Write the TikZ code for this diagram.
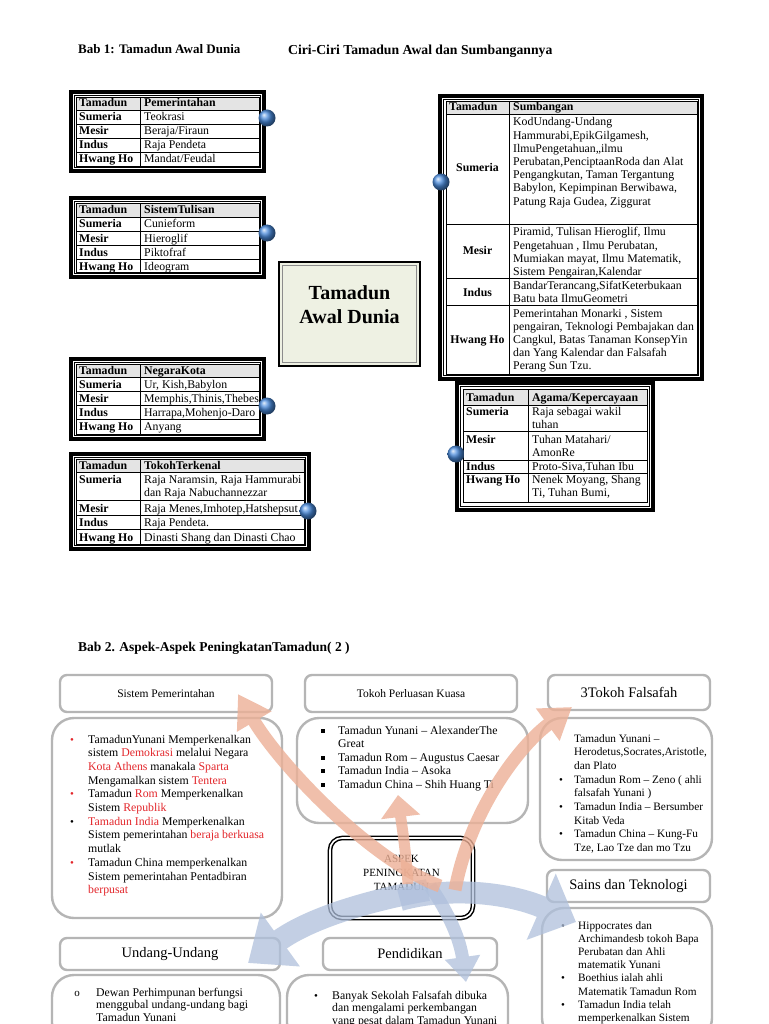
\documentclass[tikz,border=0pt]{standalone}
\usepackage{fontspec}
\setmainfont{Liberation Serif}
\usetikzlibrary{arrows.meta}
\pgfdeclarelayer{bg}
\pgfsetlayers{bg,main}
\definecolor{hdrgray}{HTML}{E4E4E4}
\definecolor{boxfill}{HTML}{EEF1E3}
\definecolor{redtxt}{HTML}{E3262B}
\definecolor{peach}{HTML}{EDB096}
\definecolor{bluearr}{HTML}{AFC0DC}
\definecolor{ballblue}{HTML}{4A8BDC}
\definecolor{gframe}{HTML}{B5B5B5}
\newcommand{\rd}[1]{\textcolor{redtxt}{#1}}
\newcommand{\mlines}[6]{\foreach \myline [count=\i from 0] in {#6} {\node[#1] (#2-\i) at (#3,{#4+\i*#5}) {\myline};}}
\newcommand{\trow}[4]{\node[tb] (#1a) at (79,#2) {#3}; \node[tx] (#1b) at (144,#2) {#4};}
\newcommand{\hrow}[3]{\node[tb] (#1a) at (79,#2) {Tamadun}; \node[tb] (#1b) at (144,#2) {#3};}
\begin{document}
\begin{tikzpicture}[x=1pt,y=-1pt,
  tx/.style={anchor=base west, inner sep=0pt, font=\fontsize{11.8}{13}\selectfont},
  tb/.style={anchor=base west, inner sep=0pt, font=\bfseries\fontsize{11.8}{13}\selectfont},
  tbc/.style={anchor=base, inner sep=0pt, font=\bfseries\fontsize{11.8}{13}\selectfont},
  frameo/.style={line width=3.5pt},
  framei/.style={line width=1pt},
  gridl/.style={line width=0.8pt},
  ball/.style={circle, inner sep=0pt, minimum size=17pt, ball color=ballblue},
  gbox/.style={draw=gframe, line width=2.4pt, fill=white, rounded corners=7pt, inner sep=0pt},
  cbox/.style={draw=gframe, line width=2.4pt, fill=white, rounded corners=22pt, inner sep=0pt},
  hfs/.style={font=\fontsize{11.5}{13}\selectfont},
  hfl/.style={font=\fontsize{14.5}{16}\selectfont},
  cx/.style={anchor=base west, inner sep=0pt, font=\fontsize{11.8}{13}\selectfont},
  cxs/.style={anchor=base west, inner sep=0pt, font=\fontsize{11.3}{13}\selectfont},
  bul/.style={anchor=base, inner sep=0pt, font=\fontsize{11}{13}\selectfont},
  sq/.style={fill=black, inner sep=0pt, minimum size=4pt},
  ttl/.style={anchor=base west, inner sep=0pt}
]
\useasboundingbox (0,0) rectangle (768,1024);
\fill[white] (0,0) rectangle (768,1024);

% ---------- titles
\node[ttl, font=\bfseries\fontsize{13}{15}\selectfont] (title1) at (78,54) {Bab 1: Tamadun Awal Dunia};
\node[ttl, font=\bfseries\fontsize{13.7}{15}\selectfont] (title2) at (288,55) {Ciri-Ciri Tamadun Awal dan Sumbangannya};
\node[ttl, font=\bfseries\fontsize{13.5}{15}\selectfont] (title3) at (78,651) {Bab 2. Aspek-Aspek PeningkatanTamadun( 2 )};

% ---------- table 1 Pemerintahan
\draw[frameo] (71,92) rectangle (264,171);
\draw[framei] (74.5,95.5) rectangle (260.5,167.5);
\fill[hdrgray] (76,97) rectangle (259,110);
\draw[gridl] (76,97) rectangle (259,166) (140,97) -- (140,166);
\foreach \yy in {110,124,138,152} \draw[gridl] (76,\yy) -- (259,\yy);
\hrow{pa}{107}{Pemerintahan}
\trow{pb}{121}{Sumeria}{Teokrasi}
\trow{pc}{135}{Mesir}{Beraja/Firaun}
\trow{pd}{149}{Indus}{Raja Pendeta}
\trow{pe}{163}{Hwang Ho}{Mandat/Feudal}

% ---------- table 2 Sistem Tulisan
\draw[frameo] (71,198) rectangle (264,277);
\draw[framei] (74.5,201.5) rectangle (260.5,273.5);
\fill[hdrgray] (76,203) rectangle (259,217);
\draw[gridl] (76,203) rectangle (259,272) (140,203) -- (140,272);
\foreach \yy in {217,231,245,259} \draw[gridl] (76,\yy) -- (259,\yy);
\hrow{sa}{214}{SistemTulisan}
\trow{sb}{228}{Sumeria}{Cunieform}
\trow{sc}{242}{Mesir}{Hieroglif}
\trow{sd}{256}{Indus}{Piktofraf}
\trow{se}{270}{Hwang Ho}{Ideogram}

% ---------- table 3 Negara Kota
\draw[frameo] (71,359) rectangle (264,439);
\draw[framei] (74.5,362.5) rectangle (260.5,435.5);
\fill[hdrgray] (76,364) rectangle (259,377);
\draw[gridl] (76,364) rectangle (259,434) (140,364) -- (140,434);
\foreach \yy in {377,391,405,419} \draw[gridl] (76,\yy) -- (259,\yy);
\hrow{na}{374}{NegaraKota}
\trow{nb}{388}{Sumeria}{Ur, Kish,Babylon}
\trow{nc}{402}{Mesir}{Memphis,Thinis,Thebes}
\trow{nd}{416}{Indus}{Harrapa,Mohenjo-Daro}
\trow{ne}{430}{Hwang Ho}{Anyang}

% ---------- table 4 Tokoh Terkenal
\draw[frameo] (71,454) rectangle (309,549);
\draw[framei] (74.5,457.5) rectangle (305.5,545.5);
\fill[hdrgray] (76,459) rectangle (304,472);
\draw[gridl] (76,459) rectangle (304,544) (140,459) -- (140,544);
\foreach \yy in {472,500,515,529} \draw[gridl] (76,\yy) -- (304,\yy);
\hrow{ka}{469}{TokohTerkenal}
\trow{kb}{483}{Sumeria}{Raja Naramsin, Raja Hammurabi}
\node[tx] (kb2) at (144,496) {dan Raja Nabuchannezzar};
\trow{kc}{512}{Mesir}{Raja Menes,Imhotep,Hatshepsut}
\trow{kd}{526}{Indus}{Raja Pendeta.}
\trow{ke}{541}{Hwang Ho}{Dinasti Shang dan Dinasti Chao}

% ---------- right table Sumbangan
\fill[white] (440,96) rectangle (702,379);
\draw[frameo] (440,96) rectangle (702,379);
\draw[framei] (443.5,99.5) rectangle (698.5,375.5);
\fill[hdrgray] (446,101) rectangle (697,114);
\draw[gridl] (446,101) rectangle (697,374) (509,101) -- (509,374);
\foreach \yy in {114,224,278,305} \draw[gridl] (446,\yy) -- (697,\yy);
\node[tb] (sha) at (449,111) {Tamadun};
\node[tb] (shb) at (513,111) {Sumbangan};
\node[tbc] (sl1) at (477.5,172) {Sumeria};
\node[tbc] (sl2) at (477.5,254) {Mesir};
\node[tbc] (sl3) at (477.5,296) {Indus};
\node[tbc] (sl4) at (477.5,343) {Hwang Ho};
\mlines{tx}{sm}{513}{126}{13.2}{{KodUndang-Undang},{Hammurabi,EpikGilgamesh,},{IlmuPengetahuan,,ilmu},{Perubatan,PenciptaanRoda dan Alat},{Pengangkutan, Taman Tergantung},{Babylon, Kepimpinan Berwibawa,},{Patung Raja Gudea, Ziggurat}}
\mlines{tx}{me}{513}{236}{13}{{Piramid, Tulisan Hieroglif, Ilmu},{Pengetahuan , Ilmu Perubatan,},{Mumiakan mayat, Ilmu Matematik,},{Sistem Pengairan,Kalendar}}
\mlines{tx}{in}{513}{289}{13}{{BandarTerancang,SifatKeterbukaan},{Batu bata IlmuGeometri}}
\mlines{tx}{hw}{513}{317}{13}{{Pemerintahan Monarki , Sistem},{pengairan, Teknologi Pembajakan dan},{Cangkul, Batas  Tanaman KonsepYin},{dan Yang Kalendar dan Falsafah},{Perang Sun Tzu.}}

% ---------- right table Agama
\fill[white] (457,383) rectangle (653,510);
\draw[frameo] (457,383) rectangle (653,510);
\draw[framei] (460.5,386.5) rectangle (649.5,506.5);
\fill[hdrgray] (463,389) rectangle (647,405);
\draw[gridl] (463,389) rectangle (647,502) (528,389) -- (528,502);
\foreach \yy in {405,431,460,473} \draw[gridl] (463,\yy) -- (647,\yy);
\node[tb] (aga) at (466,401) {Tamadun};
\node[tb] (agb) at (532,401) {Agama/Kepercayaan};
\node[tb] (ag1) at (466,415) {Sumeria};
\node[tb] (ag2) at (466,443) {Mesir};
\node[tb] (ag3) at (466,470) {Indus};
\node[tb] (ag4) at (466,483) {Hwang Ho};
\mlines{tx}{ga}{532}{415}{13}{{Raja sebagai wakil},{tuhan}}
\mlines{tx}{gb}{532}{443}{13}{{Tuhan Matahari/},{AmonRe}}
\node[tx] (gc) at (532,470) {Proto-Siva,Tuhan Ibu};
\mlines{tx}{gd}{532}{483}{13}{{Nenek Moyang, Shang},{Ti, Tuhan Bumi,}}

% ---------- centre box
\node[draw, line width=2.6pt, fill=boxfill, minimum width=141, minimum height=104, inner sep=0pt] (tad) at (349.5,314) {};
\draw[black!45, line width=0.6pt] (282.5,265.5) rectangle (416.5,362.5);
\node[anchor=base, inner sep=0pt, font=\bfseries\fontsize{20}{24}\selectfont] (tadt1) at (349.5,299) {Tamadun};
\node[anchor=base, inner sep=0pt, font=\bfseries\fontsize{20}{24}\selectfont] (tadt2) at (349.5,323) {Awal Dunia};

% ---------- balls
\node[ball] (b1) at (267,118) {};
\node[ball] (b2) at (267,233) {};
\node[ball] (b3) at (267,406) {};
\node[ball] (b4) at (308,511) {};
\node[ball] (rb1) at (441,182) {};
\node[ball] (rb2) at (456,454) {};
\coordinate (j1) at (332,0);

\begin{pgfonlayer}{bg}
\def\topconn{(b1.center) -- (b1.center -| j1) -- (j1 |- tad.north) (b2.center) -- (b2.center -| j1) (j1 |- rb1.center) -- (rb1.center) (j1 |- tad.south) -- (j1 |- b4.center) -- (b4.center) (b3.center) -- (b3.center -| j1) (j1 |- rb2.center) -- (rb2.center)}
\draw[line width=3.4pt] \topconn;
\draw[white, line width=1.2pt] \topconn;
\end{pgfonlayer}

% ---------- bottom section boxes
\node[gbox, hfs, minimum width=212, minimum height=37] (h1) at (166,693.5) {Sistem Pemerintahan};
\node[cbox, minimum width=230, minimum height=200] (c1) at (167,818) {};
\node[gbox, hfs, minimum width=212, minimum height=37] (h2) at (411,693.5) {Tokoh Perluasan Kuasa};
\node[cbox, minimum width=231, minimum height=105] (c2) at (412.5,770.5) {};
\node[gbox, hfl, minimum width=162, minimum height=35] (h3) at (629,692.5) {3Tokoh Falsafah};
\node[cbox, minimum width=172, minimum height=142] (c3) at (626,789) {};
\node[gbox, hfl, minimum width=163, minimum height=32] (h4) at (628.5,886) {Sains dan Teknologi};
\node[cbox, minimum width=170, minimum height=132] (c4) at (627,974) {};
\node[gbox, hfl, minimum width=220, minimum height=32] (h5) at (170,954) {Undang-Undang};
\node[cbox, minimum width=228, minimum height=70] (c5) at (166,1010) {};
\node[gbox, hfl, minimum width=174, minimum height=32] (h6) at (410,954) {Pendidikan};
\node[cbox, minimum width=221, minimum height=70] (c6) at (397.5,1010) {};
\node[draw, line width=1.5pt, double=white, double distance=1.6pt, rounded corners=12pt, fill=white, minimum width=143, minimum height=80, inner sep=0pt] (asp) at (401.5,878) {};
\node[anchor=base, inner sep=0pt, font=\fontsize{11}{13}\selectfont] (asp1) at (401.5,862) {ASPEK};
\node[anchor=base, inner sep=0pt, font=\fontsize{11}{13}\selectfont] (asp2) at (401.5,876) {PENINGKATAN};
\node[anchor=base, inner sep=0pt, font=\fontsize{11}{13}\selectfont] (asp3) at (401.5,890) {TAMADUN};

\coordinate (L1) at (296,833);
\coordinate (L2) at (296,950);
\coordinate (R1) at (526,833);
\coordinate (R2) at (526,963);
\coordinate (Rm) at (526,897);
\coordinate (Pm) at (398,0);
\begin{pgfonlayer}{bg}
\def\botconn{(c1.east |- L1) -- (L1) -- (L2) -- (h5.east |- L2) (L1 |- asp.west) -- (asp.west) (asp.east |- Rm) -- (Rm) (R1) -- (c3.west |- R1) (R1) -- (R2) -- (c4.west |- R2) (Pm |- asp.south) -- (Pm |- h6.north)}
\draw[line width=3.4pt] \botconn;
\draw[white, line width=1.2pt] \botconn;
\end{pgfonlayer}

% ---------- content: Sistem Pemerintahan
\mlines{cx}{pm}{88}{743}{13.7}{{TamadunYunani Memperkenalkan},{sistem \rd{Demokrasi} melalui Negara},{\rd{Kota Athens} manakala \rd{Sparta}},{Mengamalkan sistem \rd{Tentera}},{Tamadun \rd{Rom} Memperkenalkan},{Sistem \rd{Republik}},{\rd{Tamadun India} Memperkenalkan},{Sistem pemerintahan \rd{beraja berkuasa}},{mutlak},{Tamadun China memperkenalkan},{Sistem pemerintahan Pentadbiran},{\rd{berpusat}}}
\node[bul, text=redtxt] (pmb1) at (72,743) {\textbullet};
\node[bul, text=redtxt] (pmb2) at (72,797.8) {\textbullet};
\node[bul] (pmb3) at (72,825.2) {\textbullet};
\node[bul, text=redtxt] (pmb4) at (72,866.3) {\textbullet};

% ---------- content: Tokoh Perluasan Kuasa
\mlines{cx}{tp}{338}{734}{13.5}{{Tamadun Yunani – AlexanderThe},{Great},{Tamadun Rom – Augustus Caesar},{Tamadun India – Asoka},{Tamadun China – Shih Huang Ti}}
\node[sq] (tps1) at (323,730.5) {};
\node[sq] (tps2) at (323,757.5) {};
\node[sq] (tps3) at (323,771) {};
\node[sq] (tps4) at (323,784.5) {};

% ---------- content: Tokoh Falsafah
\mlines{cxs}{tf}{574}{742}{13.7}{{Tamadun Yunani –},{Herodetus,Socrates,Aristotle,},{dan Plato},{Tamadun Rom – Zeno ( ahli},{falsafah Yunani )},{Tamadun India – Bersumber},{Kitab  Veda},{Tamadun China – Kung-Fu},{Tze, Lao Tze dan mo Tzu}}
\node[bul] (tfb1) at (561,783.1) {\textbullet};
\node[bul] (tfb2) at (561,810.5) {\textbullet};
\node[bul] (tfb3) at (561,837.9) {\textbullet};

% ---------- content: Sains dan Teknologi
\mlines{cxs}{st}{578}{929}{13.2}{{Hippocrates dan},{Archimandesb tokoh Bapa},{Perubatan dan Ahli},{matematik Yunani},{Boethius ialah ahli},{Matematik Tamadun Rom},{Tamadun India telah},{memperkenalkan Sistem}}
\node[bul] (stb1) at (563,929) {\textbullet};
\node[bul] (stb2) at (563,981.8) {\textbullet};
\node[bul] (stb3) at (563,1008.2) {\textbullet};

% ---------- content: Undang-Undang
\mlines{cx}{uu}{96}{996}{12.5}{{Dewan Perhimpunan berfungsi},{menggubal undang-undang bagi},{Tamadun Yunani}}
\node[bul] (uub) at (77,996) {o};

% ---------- content: Pendidikan
\mlines{cx}{pd}{332}{999}{12.5}{{Banyak Sekolah Falsafah dibuka},{dan mengalami perkembangan},{yang pesat dalam Tamadun Yunani}}
\node[bul] (pdb) at (316,999) {\textbullet};

% ---------- arrows
\coordinate (ad0) at (428,890); \coordinate (ad1) at (370,900); \coordinate (ad2) at (310,918); \coordinate (ad3) at (248,963);
\coordinate (ae0) at (430,886); \coordinate (ae1) at (450,915); \coordinate (ae2) at (460,940); \coordinate (ae3) at (466,982);
\coordinate (af0) at (400,900); \coordinate (af1) at (450,886); \coordinate (af2) at (510,893); \coordinate (af3) at (576,922);
\coordinate (aa0) at (440,886); \coordinate (aa1) at (370,860); \coordinate (aa2) at (280,765); \coordinate (aa3) at (238,694);
\coordinate (ab0) at (408,884); \coordinate (ab1) at (406,850); \coordinate (ab2) at (401,820); \coordinate (ab3) at (398,795);
\coordinate (ac0) at (455,890); \coordinate (ac1) at (470,810); \coordinate (ac2) at (520,745); \coordinate (ac3) at (572,707);
\begin{scope}[transparency group, opacity=0.75]
\draw[bluearr, line width=22pt, -{Triangle[width=64pt,length=40pt]}] (ad0) .. controls (ad1) and (ad2) .. (ad3);
\end{scope}
\begin{scope}[transparency group, opacity=0.75]
\draw[bluearr, line width=13pt, -{Triangle[width=34pt,length=25pt]}] (ae0) .. controls (ae1) and (ae2) .. (ae3);
\end{scope}
\begin{scope}[transparency group, opacity=0.75]
\draw[bluearr, line width=22pt, -{Triangle[width=70pt,length=38pt]}] (af0) .. controls (af1) and (af2) .. (af3);
\end{scope}
\begin{scope}[transparency group, opacity=0.8]
\draw[peach, line width=13pt, -{Triangle[width=38pt,length=32pt]}] (aa0) .. controls (aa1) and (aa2) .. (aa3);
\end{scope}
\begin{scope}[transparency group, opacity=0.8]
\draw[peach, line width=11pt, -{Triangle[width=38pt,length=22pt]}] (ab0) .. controls (ab1) and (ab2) .. (ab3);
\end{scope}
\begin{scope}[transparency group, opacity=0.8]
\draw[peach, line width=13pt, -{Triangle[width=38pt,length=30pt]}] (ac0) .. controls (ac1) and (ac2) .. (ac3);
\end{scope}
\end{tikzpicture}
\end{document}
